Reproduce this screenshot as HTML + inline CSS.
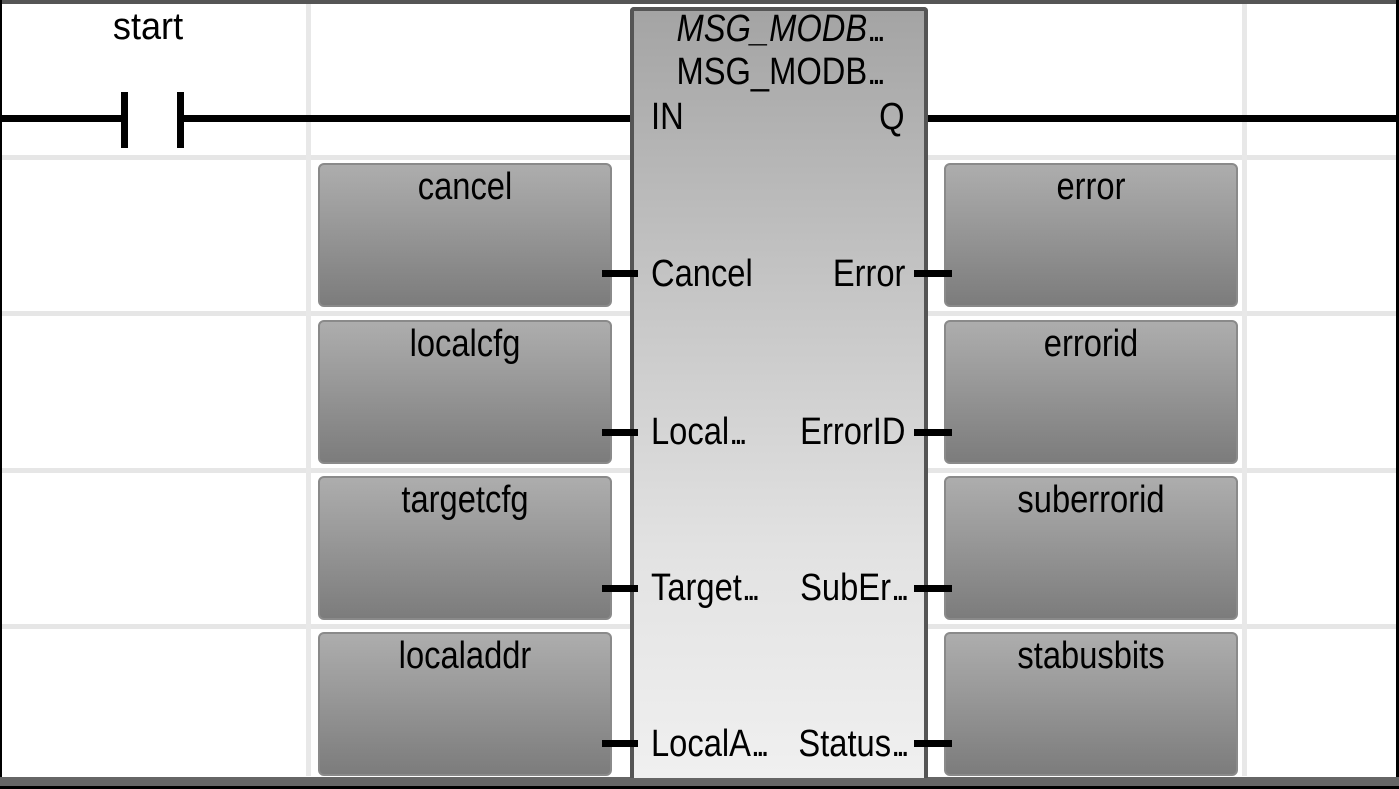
<!DOCTYPE html>
<html><head><meta charset="utf-8"><style>
*{margin:0;padding:0;box-sizing:border-box}
body{width:1399px;height:789px;overflow:hidden;background:#fff;position:relative;font-family:"Liberation Sans",sans-serif;color:#000}
.a{position:absolute}
.hl{position:absolute;left:2px;width:1394px;height:5px;background:#e6e6e6}
.vl{position:absolute;top:4px;width:5px;height:772px;background:#e8e8e8}
.box{position:absolute;width:294px;height:144px;border-radius:6px;background:linear-gradient(#adadad,#9a9a9a 40%,#7c7c7c);border:2px solid #8a8a8a}
.box span{position:absolute;left:-20px;right:-20px;top:1px;text-align:center;font-size:38px;transform:scaleX(.86);white-space:nowrap}
.k{position:absolute;background:#000}
.t{position:absolute;font-size:38px;white-space:nowrap;transform-origin:left center;transform:scaleX(.86)}
.tr{position:absolute;font-size:38px;white-space:nowrap;transform-origin:right center;transform:scaleX(.86);text-align:right}
.c{position:absolute;font-size:38px;white-space:nowrap;text-align:center;transform:scaleX(.86)}
i.d{font-style:normal;letter-spacing:-5px}
</style></head><body>
<div class="a" style="left:0;top:0;width:1399px;height:4px;background:#555"></div>
<div class="a" style="left:0;top:0;width:2px;height:789px;background:#000"></div>
<div class="a" style="right:0;top:0;width:3px;height:789px;background:#000"></div>
<div class="a" style="left:0;top:777px;width:1399px;height:9px;background:#666"></div>
<div class="a" style="left:0;top:786px;width:1399px;height:3px;background:#000"></div>

<div class="hl" style="top:155px"></div>
<div class="hl" style="top:311px"></div>
<div class="hl" style="top:468px"></div>
<div class="hl" style="top:624px"></div>
<div class="vl" style="left:306px"></div>
<div class="vl" style="left:1242px"></div>

<div class="k" style="left:2px;top:115px;width:120px;height:7px"></div>
<div class="k" style="left:181px;top:115px;width:452px;height:7px"></div>
<div class="k" style="left:924px;top:115px;width:472px;height:7px"></div>
<div class="k" style="left:121px;top:92px;width:7px;height:56px"></div>
<div class="k" style="left:177px;top:92px;width:7px;height:56px"></div>
<div class="c" style="left:96px;width:104px;top:6px;transform:scaleX(.95)">start</div>

<div class="box" style="left:318px;top:163px"><span>cancel</span></div>
<div class="box" style="left:318px;top:320px"><span>localcfg</span></div>
<div class="box" style="left:318px;top:476px"><span>targetcfg</span></div>
<div class="box" style="left:318px;top:632px"><span>localaddr</span></div>
<div class="box" style="left:944px;top:163px"><span>error</span></div>
<div class="box" style="left:944px;top:320px"><span>errorid</span></div>
<div class="box" style="left:944px;top:476px"><span>suberrorid</span></div>
<div class="box" style="left:944px;top:632px"><span>stabusbits</span></div>

<div class="a" style="left:630px;top:7px;width:298px;height:771px;border:4px solid #555;border-bottom:none;border-radius:4px 4px 0 0;background:linear-gradient(#a4a4a4,#c4c4c4 35%,#e2e2e2 70%,#f0f0f0)"></div>
<div class="c" style="left:620px;width:318px;top:8px;font-style:italic">MSG_MODB<i class="d">...</i></div>
<div class="c" style="left:620px;width:318px;top:51px">MSG_MODB<i class="d">...</i></div>

<div class="t" style="left:651px;top:96px">IN</div>
<div class="tr" style="right:494px;top:96px">Q</div>

<div class="k" style="left:602px;top:270px;width:36px;height:7px"></div>
<div class="k" style="left:914px;top:270px;width:38px;height:7px"></div>
<div class="k" style="left:602px;top:429px;width:36px;height:7px"></div>
<div class="k" style="left:914px;top:429px;width:38px;height:7px"></div>
<div class="k" style="left:602px;top:585px;width:36px;height:7px"></div>
<div class="k" style="left:914px;top:585px;width:38px;height:7px"></div>
<div class="k" style="left:602px;top:740px;width:36px;height:7px"></div>
<div class="k" style="left:914px;top:740px;width:38px;height:7px"></div>

<div class="t" style="left:651px;top:253px">Cancel</div>
<div class="tr" style="right:494px;top:253px">Error</div>
<div class="t" style="left:651px;top:411px">Local<i class="d">...</i></div>
<div class="tr" style="right:494px;top:411px">ErrorID</div>
<div class="t" style="left:651px;top:567px">Target<i class="d">...</i></div>
<div class="tr" style="right:494px;top:567px">SubEr<i class="d">...</i></div>
<div class="t" style="left:651px;top:723px">LocalA<i class="d">...</i></div>
<div class="tr" style="right:494px;top:723px">Status<i class="d">...</i></div>
</body></html>
